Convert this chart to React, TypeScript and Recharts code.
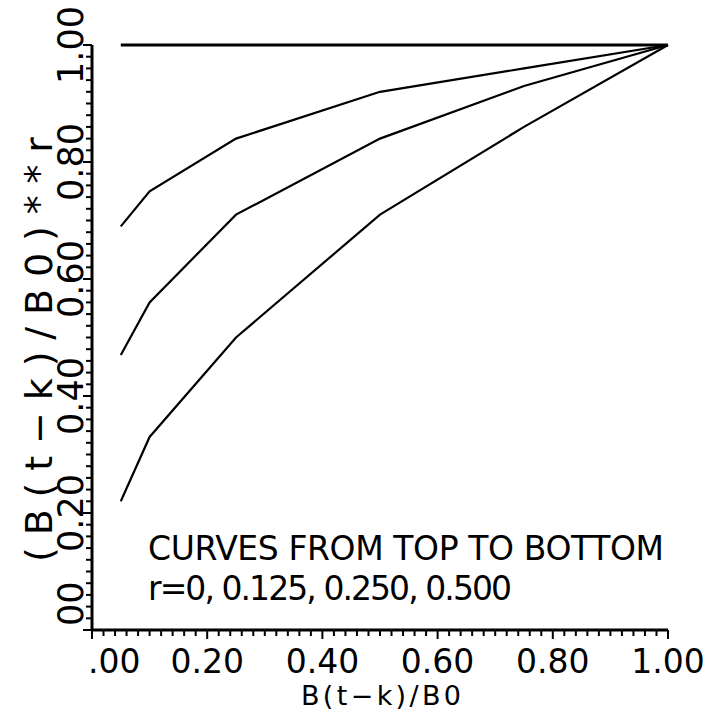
import { LineChart, Line, XAxis, YAxis } from "recharts"

const xValues = [0.05, 0.1, 0.25, 0.5, 0.75, 1.0]
const curveR0 = [1.0, 1.0, 1.0, 1.0, 1.0, 1.0]
const curveR125 = [0.69, 0.75, 0.84, 0.92, 0.96, 1.0]
const curveR250 = [0.47, 0.56, 0.71, 0.84, 0.93, 1.0]
const curveR500 = [0.22, 0.33, 0.5, 0.71, 0.86, 1.0]

const xTickLabels = [".00", "0.20", "0.40", "0.60", "0.80", "1.00"]
const yTickLabels = ["00", "0.20", "0.40", "0.60", "0.80", "1.00"]

const data = xValues.map((x, i) => ({
  x,
  r0: curveR0[i],
  r125: curveR125[i],
  r250: curveR250[i],
  r500: curveR500[i],
}))

// minor ticks every 0.02, labels every 0.20
const ticks = Array.from({ length: 51 }, (_, i) => +(i * 0.02).toFixed(2))
const majorIndex = (v: number) => {
  const k = Math.round(v / 0.2)
  return Math.abs(v - k * 0.2) < 1e-6 ? k : -1
}

const FONT = "'DejaVu Sans', 'Liberation Sans', Arial, sans-serif"

function XTick(props: any) {
  const { x, y, payload } = props
  const k = majorIndex(payload.value)
  const len = k >= 0 ? 9 : 6
  return (
    <g>
      <line x1={x} y1={y} x2={x} y2={y + len} stroke="#000" strokeWidth={2} />
      {k >= 0 && (
        <text
          x={k === 0 ? x - 4 : x}
          y={y + 43}
          textAnchor={k === 0 ? "start" : "middle"}
          fontSize={33}
          fontFamily={FONT}
          fill="#000"
        >
          {xTickLabels[k]}
        </text>
      )}
    </g>
  )
}

function YTick(props: any) {
  const { x, y, payload } = props
  const k = majorIndex(payload.value)
  const len = k >= 0 ? 9 : 6
  const ty = k === 0 ? y - 4 : y
  return (
    <g>
      <line x1={x - len} y1={y} x2={x} y2={y} stroke="#000" strokeWidth={2} />
      {k >= 0 && (
        <text
          x={x - 9}
          y={ty}
          transform={`rotate(-90 ${x - 9} ${ty})`}
          textAnchor={k === 0 ? "start" : "middle"}
          fontSize={35}
          fontFamily={FONT}
          fill="#000"
        >
          {yTickLabels[k]}
        </text>
      )}
    </g>
  )
}

export default function App() {
  return (
    <div style={{ position: "absolute", left: 0, top: 0, width: 707, height: 712, background: "#fff" }}>
      <LineChart
        width={707}
        height={712}
        data={data}
        margin={{ top: 45, right: 39, left: 42, bottom: 32 }}
      >
        <XAxis
          dataKey="x"
          type="number"
          domain={[0, 1]}
          ticks={ticks}
          interval={0}
          tickSize={0}
          tickMargin={0}
          height={50}
          tick={<XTick />}
          axisLine={{ stroke: "#000", strokeWidth: 3 }}
          tickLine={false}
        />
        <YAxis
          type="number"
          domain={[0, 1]}
          ticks={ticks}
          interval={0}
          tickSize={0}
          tickMargin={0}
          width={50}
          tick={<YTick />}
          axisLine={{ stroke: "#000", strokeWidth: 3 }}
          tickLine={false}
        />
        <Line dataKey="r0" stroke="#000" strokeWidth={3} dot={false} isAnimationActive={false} />
        <Line dataKey="r125" stroke="#000" strokeWidth={2.2} dot={false} isAnimationActive={false} />
        <Line dataKey="r250" stroke="#000" strokeWidth={2.2} dot={false} isAnimationActive={false} />
        <Line dataKey="r500" stroke="#000" strokeWidth={2.2} dot={false} isAnimationActive={false} />
      </LineChart>
      <svg
        width={707}
        height={712}
        style={{ position: "absolute", left: 0, top: 0, pointerEvents: "none" }}
      >
        <text x={148} y={560} fontSize={33} fontFamily={FONT} textLength={516} lengthAdjust="spacing" fill="#000">
          CURVES FROM TOP TO BOTTOM
        </text>
        <text x={148} y={600} fontSize={33} fontFamily={FONT} textLength={364} lengthAdjust="spacing" fill="#000">
          r=0, 0.125, 0.250, 0.500
        </text>
        <text x={301} y={705} fontSize={27} fontFamily={FONT} textLength={160} lengthAdjust="spacing" fill="#000">
          B(t−k)/B0
        </text>
        <text
          x={52}
          y={562}
          transform="rotate(-90 52 562)"
          fontSize={38}
          fontFamily={FONT}
          textLength={425}
          lengthAdjust="spacing"
          fill="#000"
        >
          (B(t−k)/B0)**r
        </text>
      </svg>
    </div>
  )
}
